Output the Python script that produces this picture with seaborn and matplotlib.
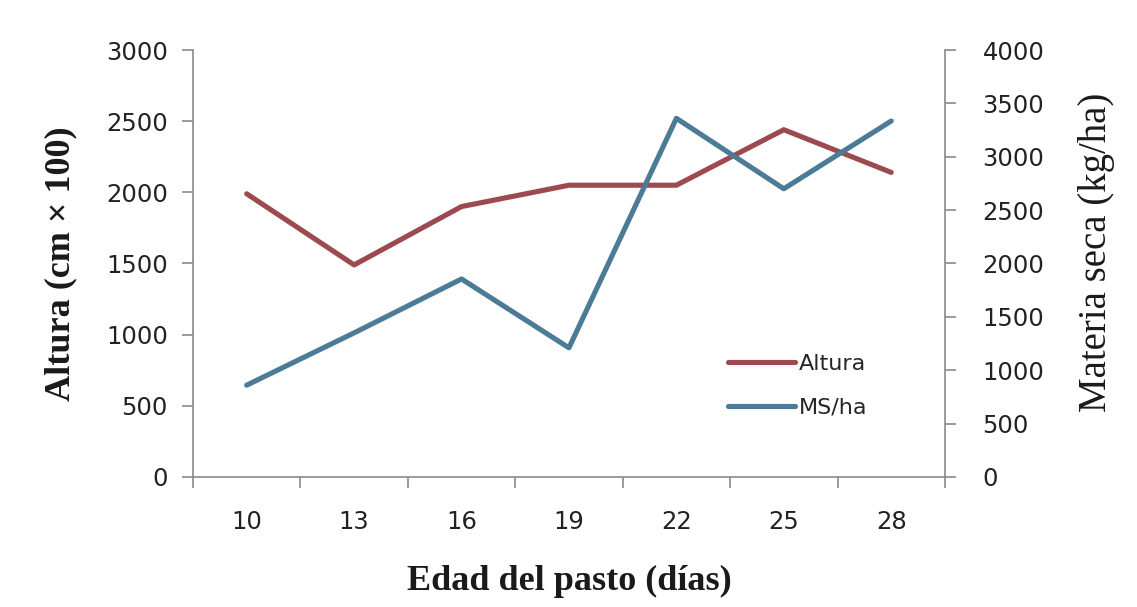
import numpy as np
import pandas as pd
import matplotlib
matplotlib.use('Agg')
import matplotlib.pyplot as plt
import seaborn as sns

# values
dias = [10, 13, 16, 19, 22, 25, 28]
altura = [1990, 1490, 1900, 2050, 2050, 2440, 2140]
ms_ha = [860, 1350, 1855, 1210, 3360, 2700, 3335]

left_ticks = [0, 500, 1000, 1500, 2000, 2500, 3000]
right_ticks = [0, 500, 1000, 1500, 2000, 2500, 3000, 3500, 4000]

df = pd.DataFrame({'dias': dias, 'Altura': altura, 'MS/ha': ms_ha})

sns.set_style('white')
plt.rcParams['font.family'] = ['DejaVu Sans']

c_alt = '#9C4A50'
c_ms = '#4B7B97'
spine_c = '#8A8A8A'

fig = plt.figure(figsize=(11.37, 6.07), dpi=100)
ax = fig.add_axes([0.1697, 0.2142, 0.6614, 0.7034])
ax2 = ax.twinx()

sns.lineplot(data=df, x='dias', y='Altura', ax=ax, color=c_alt, lw=3.7, label='Altura', legend=False)
sns.lineplot(data=df, x='dias', y='MS/ha', ax=ax2, color=c_ms, lw=3.7, label='MS/ha', legend=False)

ax.set_xlim(8.5, 29.5)
ax.set_ylim(0, 3000)
ax2.set_ylim(0, 4000)
ax.set_yticks(left_ticks)
ax2.set_yticks(right_ticks)
ax.set_xticks(dias)
ax.set_xticks(np.arange(8.5, 30, 3), minor=True)

for a in (ax, ax2):
    a.spines['top'].set_visible(False)
    for s in ('left', 'right', 'bottom'):
        a.spines[s].set_color(spine_c)
        a.spines[s].set_linewidth(1.2)
ax.spines['right'].set_visible(False)
ax2.spines['left'].set_visible(False)
ax2.spines['bottom'].set_visible(False)

tick_fs = 17.5
ax.tick_params(axis='x', which='major', length=0, pad=24, labelsize=tick_fs, labelcolor='#222222')
ax.tick_params(axis='x', which='minor', length=8, width=1.2, color=spine_c, direction='out', bottom=True)
ax.tick_params(axis='y', length=8, width=1.2, color=spine_c, direction='out', left=True, pad=10,
               labelsize=tick_fs, labelcolor='#222222')
ax2.tick_params(axis='y', length=8, width=1.2, color=spine_c, direction='out', right=True, pad=19,
                labelsize=tick_fs, labelcolor='#222222')

serif = dict(family='Liberation Serif', weight='bold', size=26, color='#1a1a1a')
ax.set_xlabel('Edad del pasto (días)', fontdict=serif, labelpad=22)
ax.set_ylabel('Altura (cm × 100)', fontdict=serif, labelpad=21)
ax2.set_ylabel('Materia seca (kg/ha)', family='Liberation Serif', weight='normal', size=28,
               color='#1a1a1a', labelpad=24)
ax2.yaxis.label.set_y(0.527)

h1, l1 = ax.get_legend_handles_labels()
h2, l2 = ax2.get_legend_handles_labels()
ax2.legend(h1 + h2, l1 + l2, loc='upper left', bbox_to_anchor=(0.685, 0.335), frameon=False,
           fontsize=16, handlelength=3.0, handletextpad=0.2, labelspacing=1.05)

fig.savefig('out.png', dpi=100, facecolor='white')
